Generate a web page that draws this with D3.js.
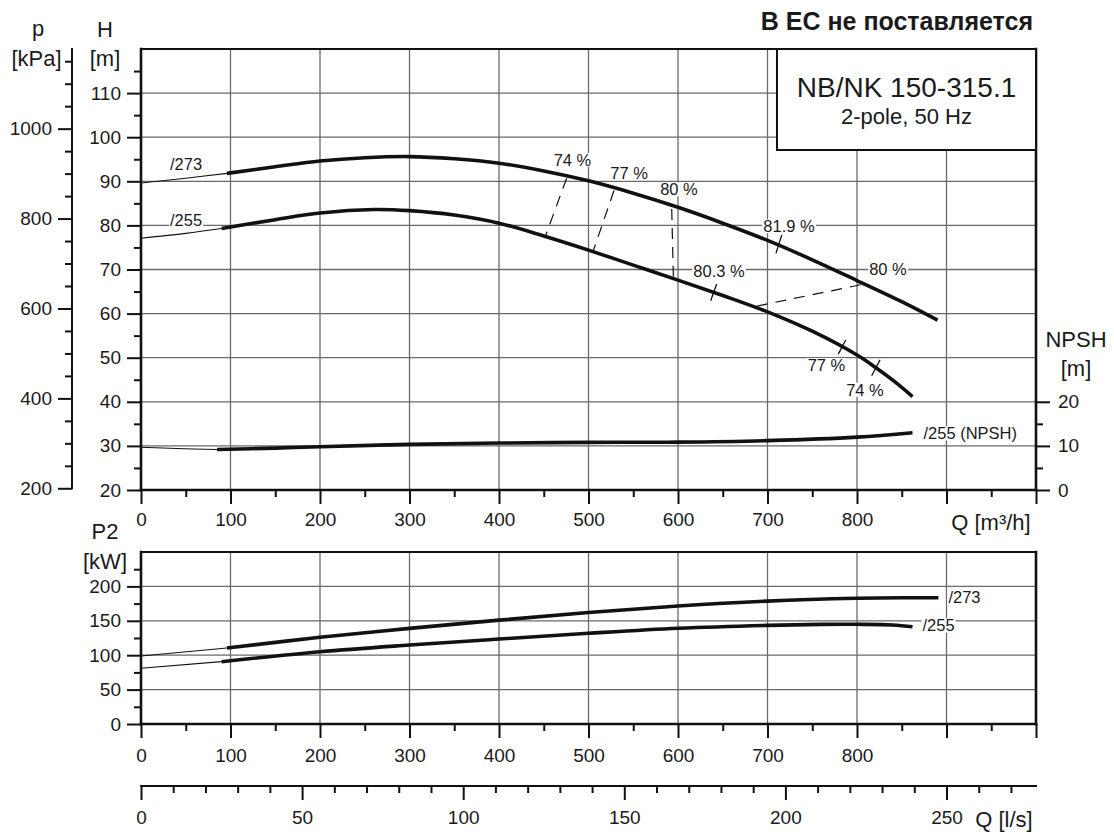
<!DOCTYPE html>
<html><head><meta charset="utf-8">
<script src="https://cdn.jsdelivr.net/npm/d3@7"></script>
<style>body{margin:0;background:#fff} svg{display:block}</style>
</head><body>
<svg id="c" width="1114" height="832"></svg>
<script>
// ---------------- DATA ----------------
const qH273 = [0, 50, 96, 150, 200, 250, 300, 350, 400, 450, 500, 550, 600, 650, 700, 750, 800, 850, 890];
const h273  = [89.6, 90.7, 91.8, 93.3, 94.6, 95.35, 95.6, 95.1, 94.1, 92.35, 90.1, 87.3, 84.1, 80.5, 76.6, 72.2, 67.5, 62.7, 58.5];
const qH255 = [0, 50, 90, 150, 200, 260, 300, 350, 400, 450, 500, 550, 600, 650, 700, 750, 800, 820, 840, 862];
const h255  = [77.1, 78.2, 79.3, 81.3, 82.8, 83.6, 83.35, 82.35, 80.5, 77.6, 74.4, 71.0, 67.6, 64.1, 60.4, 56.0, 50.6, 47.9, 44.9, 41.2];
const qNpsh = [0, 40, 85, 150, 200, 300, 400, 500, 600, 700, 800, 862];
const npsh  = [9.7, 9.4, 9.2, 9.5, 9.8, 10.35, 10.65, 10.8, 10.85, 11.2, 12.0, 13.0];
const qP273 = [0, 96, 200, 300, 400, 500, 600, 700, 800, 850, 891];
const p273  = [98.8, 110.5, 126, 139, 151, 162, 171.5, 178.6, 182.7, 183.6, 183.4];
const qP255 = [0, 90, 200, 300, 400, 500, 600, 700, 760, 800, 840, 862];
const p255  = [81, 90.6, 105, 114.8, 123.5, 131.8, 139.1, 143.4, 144.8, 144.9, 144, 141.4];
// Q where the bold (allowed operating range) part starts
const thickFrom = {h273: 96, h255: 90, npsh: 85, p273: 96, p255: 90};

// efficiency iso-lines (dashed), Q [m3/h], H [m]
const effLabels = ["74 %", "77 %", "80 %", "80 %"];
const effQ1 = [475.6, 528.5, 593.0, 688.0];
const effH1 = [90.7, 87.9, 83.7, 61.7];
const effQ2 = [451.4, 505.4, 594.8, 812.6];
const effH2 = [77.3, 74.3, 68.4, 66.9];
const effLabelQ = [482.1, 545.3, 601.1, 834.6];
const effLabelH = [94.8, 91.8, 88.1, 70.1];
// efficiency marks (short ticks) across curves
const tickLabels = ["81.9 %", "80.3 %", "77 %", "74 %"];
const tickQ1 = [709.5, 636.5, 779.1, 816.4];
const tickH1 = [73.7, 62.9, 50.8, 45.9];
const tickQ2 = [715.9, 643.2, 787.4, 825.7];
const tickH2 = [77.8, 66.7, 54.0, 49.5];
const tickLabelQ = [724.0, 645.8, 765.9, 808.9];
const tickLabelH = [79.75, 69.5, 48.3, 42.7];

// axis ticks
const hMajor = [20, 30, 40, 50, 60, 70, 80, 90, 100, 110];
const pKpaMajor = [200, 400, 600, 800, 1000];
const qMajor = [0, 100, 200, 300, 400, 500, 600, 700, 800, 900, 1000];
const qLabeled = [0, 100, 200, 300, 400, 500, 600, 700, 800];
const npshMajor = [0, 10, 20];
const p2Major = [0, 50, 100, 150, 200];
const lsMajor = [0, 50, 100, 150, 200, 250];

// ---------------- SETUP ----------------
const F = '"Liberation Sans", Arial, Helvetica, sans-serif';
const svg = d3.select('#c');
const x = d3.scaleLinear().domain([0, 1000]).range([141, 1036]);
const yH = d3.scaleLinear().domain([20, 120]).range([490, 49]);
const yKpa = d3.scaleLinear().domain([20 * 9.81, 120 * 9.81]).range([490, 49]);
const yN = d3.scaleLinear().domain([0, 100]).range([490, 49]);
const yP = d3.scaleLinear().domain([0, 250]).range([724, 552]);
const xLs = d3.scaleLinear().domain([0, 1000 / 3.6]).range([141, 1036]);

const GRID = '#6a6a6a';
const gGrid = svg.append('g');
d3.range(100, 1000, 100).forEach(q => {
  gGrid.append('line').attr('x1', x(q)).attr('x2', x(q)).attr('y1', yH(120)).attr('y2', yH(20))
    .attr('stroke', GRID).attr('stroke-width', 1.3);
  gGrid.append('line').attr('x1', x(q)).attr('x2', x(q)).attr('y1', yP(250)).attr('y2', yP(0))
    .attr('stroke', GRID).attr('stroke-width', 1.3);
});
d3.range(30, 120, 10).forEach(h => {
  gGrid.append('line').attr('x1', x(0)).attr('x2', x(1000)).attr('y1', yH(h)).attr('y2', yH(h))
    .attr('stroke', GRID).attr('stroke-width', 1.3);
});
[50, 100, 150, 200].forEach(p => {
  gGrid.append('line').attr('x1', x(0)).attr('x2', x(1000)).attr('y1', yP(p)).attr('y2', yP(p))
    .attr('stroke', GRID).attr('stroke-width', 1.3);
});

// ---------------- EFFICIENCY LINES ----------------
const gEff = svg.append('g');
effQ1.forEach((q, i) => {
  gEff.append('line').attr('x1', x(effQ1[i])).attr('y1', yH(effH1[i]))
    .attr('x2', x(effQ2[i])).attr('y2', yH(effH2[i]))
    .attr('stroke', '#111').attr('stroke-width', 1.2).attr('stroke-dasharray', '11,8');
});
tickQ1.forEach((q, i) => {
  gEff.append('line').attr('x1', x(tickQ1[i])).attr('y1', yH(tickH1[i]))
    .attr('x2', x(tickQ2[i])).attr('y2', yH(tickH2[i]))
    .attr('stroke', '#111').attr('stroke-width', 1.3);
});

// ---------------- CURVES ----------------
function drawCurve(qs, vs, yScale, from, g) {
  const pts = qs.map((q, i) => [q, vs[i]]);
  const line = d3.line().x(d => x(d[0])).y(d => yScale(d[1])).curve(d3.curveCatmullRom.alpha(0.5));
  g.append('path').attr('d', line(pts.filter(d => d[0] <= from)))
    .attr('fill', 'none').attr('stroke', '#111').attr('stroke-width', 1.1);
  g.append('path').attr('d', line(pts.filter(d => d[0] >= from)))
    .attr('fill', 'none').attr('stroke', '#111').attr('stroke-width', 3.6).attr('stroke-linecap', 'butt');
}
const gC = svg.append('g');
drawCurve(qH273, h273, yH, thickFrom.h273, gC);
drawCurve(qH255, h255, yH, thickFrom.h255, gC);
drawCurve(qNpsh, npsh, yN, thickFrom.npsh, gC);
drawCurve(qP273, p273, yP, thickFrom.p273, gC);
drawCurve(qP255, p255, yP, thickFrom.p255, gC);

// ---------------- LABELS WITH WHITE BACKGROUND ----------------
const gL = svg.append('g');
function bgLabel(txt, cx, cy, anchor, fs) {
  const g = gL.append('g');
  const rect = g.append('rect').attr('fill', '#fff');
  const t = g.append('text').attr('x', cx).attr('y', cy).attr('dy', '0.35em')
    .attr('text-anchor', anchor || 'middle').attr('font-family', F).attr('font-size', fs || 16.5)
    .attr('fill', '#1a1a1a').text(txt);
  const b = t.node().getBBox();
  rect.attr('x', b.x - 1).attr('y', b.y + 2).attr('width', b.width + 2).attr('height', b.height - 4);
}
effLabels.forEach((l, i) => bgLabel(l, x(effLabelQ[i]), yH(effLabelH[i])));
tickLabels.forEach((l, i) => bgLabel(l, x(tickLabelQ[i]), yH(tickLabelH[i])));
bgLabel('/273', x(qH273[0]) + 29, yH(h273[0]) - 19, 'start');
bgLabel('/255', x(qH255[0]) + 29, yH(h255[0]) - 18, 'start');
bgLabel('/255 (NPSH)', x(qNpsh[qNpsh.length - 1]) + 11, yN(npsh[npsh.length - 1]) + 1, 'start');
bgLabel('/273', x(qP273[qP273.length - 1]) + 10, yP(p273[p273.length - 1]) - 1, 'start');
bgLabel('/255', x(qP255[qP255.length - 1]) + 10, yP(p255[p255.length - 1]) - 1, 'start');

// ---------------- AXES ----------------
function styleAxis(g, fs) {
  g.attr('font-family', F).attr('font-size', fs || 19);
  g.select('.domain').remove();
  g.selectAll('.tick line').attr('stroke', '#111').attr('stroke-width', 2);
  g.selectAll('.tick text').attr('fill', '#1a1a1a');
}
function minorOf(start, stop, step, majors) {
  return d3.range(start, stop + 1e-9, step).filter(v => !majors.includes(v));
}
svg.append('g').attr('transform', `translate(${x(0)},0)`)
  .call(d3.axisLeft(yH).tickValues(minorOf(25, 115, 5, hMajor)).tickSize(7).tickFormat(''))
  .call(styleAxis);
svg.append('g').attr('transform', `translate(${x(0)},0)`)
  .call(d3.axisLeft(yH).tickValues(hMajor).tickSize(14).tickPadding(6).tickFormat(d3.format('d')))
  .call(styleAxis);
const PX = 72;
svg.append('g').attr('transform', `translate(${PX},0)`)
  .call(d3.axisLeft(yKpa).tickValues(minorOf(250, 1150, 50, [400, 600, 800, 1000])).tickSize(7).tickFormat(''))
  .call(styleAxis);
svg.append('g').attr('transform', `translate(${PX},0)`)
  .call(d3.axisLeft(yKpa).tickValues(pKpaMajor).tickSize(14).tickPadding(6).tickFormat(d3.format('d')))
  .call(styleAxis);
const qFmt = d => qLabeled.includes(d) ? d : '';
svg.append('g').attr('transform', `translate(0,${yH(20)})`)
  .call(d3.axisBottom(x).tickValues(d3.range(50, 1000, 100)).tickSize(7).tickFormat(''))
  .call(styleAxis);
svg.append('g').attr('transform', `translate(0,${yH(20)})`)
  .call(d3.axisBottom(x).tickValues(qMajor).tickSize(14).tickPadding(9).tickFormat(qFmt))
  .call(styleAxis);
svg.append('g').attr('transform', `translate(${x(1000)},0)`)
  .call(d3.axisRight(yN).tickValues([5, 15]).tickSize(7).tickFormat(''))
  .call(styleAxis);
svg.append('g').attr('transform', `translate(${x(1000)},0)`)
  .call(d3.axisRight(yN).tickValues(npshMajor).tickSize(14).tickPadding(8).tickFormat(d3.format('d')))
  .call(styleAxis);
svg.append('g').attr('transform', `translate(${x(0)},0)`)
  .call(d3.axisLeft(yP).tickValues(minorOf(25, 225, 50, [])).tickSize(7).tickFormat(''))
  .call(styleAxis);
svg.append('g').attr('transform', `translate(${x(0)},0)`)
  .call(d3.axisLeft(yP).tickValues(p2Major).tickSize(14).tickPadding(6).tickFormat(d3.format('d')))
  .call(styleAxis);
svg.append('g').attr('transform', `translate(0,${yP(0)})`)
  .call(d3.axisBottom(x).tickValues(d3.range(50, 1000, 100)).tickSize(7).tickFormat(''))
  .call(styleAxis);
svg.append('g').attr('transform', `translate(0,${yP(0)})`)
  .call(d3.axisBottom(x).tickValues(qMajor).tickSize(14).tickPadding(11).tickFormat(qFmt))
  .call(styleAxis);
const LY = 786;
svg.append('g').attr('transform', `translate(0,${LY})`)
  .call(d3.axisBottom(xLs).tickValues(minorOf(10, 270, 10, lsMajor)).tickSize(7).tickFormat(''))
  .call(styleAxis);
svg.append('g').attr('transform', `translate(0,${LY})`)
  .call(d3.axisBottom(xLs).tickValues(lsMajor).tickSize(14).tickPadding(11).tickFormat(d3.format('d')))
  .call(styleAxis);

// ---------------- FRAMES ----------------
function ln(x1, y1, x2, y2, w) {
  svg.append('line').attr('x1', x1).attr('y1', y1).attr('x2', x2).attr('y2', y2)
    .attr('stroke', '#111').attr('stroke-width', w).attr('stroke-linecap', 'square');
}
ln(x(0), yH(120), x(1000), yH(120), 2);
ln(x(0), yH(120), x(0), yH(20), 2.6);
ln(x(1000), yH(120), x(1000), yH(20), 2.6);
ln(x(0), yH(20), x(1000), yH(20), 2.6);
ln(PX, yH(120), PX, yKpa(200), 2);
ln(x(0), yP(250), x(1000), yP(250), 2);
ln(x(0), yP(250), x(0), yP(0), 2.6);
ln(x(1000), yP(250), x(1000), yP(0), 2.6);
ln(x(0), yP(0), x(1000), yP(0), 2.6);
ln(xLs(0), LY, xLs(1000 / 3.6), LY, 2);

// ---------------- TITLE BOX ----------------
svg.append('rect').attr('x', 777).attr('y', yH(120)).attr('width', x(1000) - 777).attr('height', 101)
  .attr('fill', '#fff').attr('stroke', '#111').attr('stroke-width', 2);
function txt(s, tx, ty, fs, anchor, weight) {
  return svg.append('text').attr('x', tx).attr('y', ty).attr('dy', '0.35em')
    .attr('text-anchor', anchor || 'middle').attr('font-family', F).attr('font-size', fs)
    .attr('font-weight', weight || 'normal').attr('fill', '#1a1a1a').text(s);
}
txt('NB/NK 150-315.1', 906.5, 87, 28);
txt('2-pole, 50 Hz', 906.5, 116, 22);
txt('В ЕС не поставляется', 1033, 21, 25, 'end', 'bold');

txt('p', 38, 28, 22);
txt('[kPa]', 36.5, 58, 22);
txt('H', 105, 29, 22);
txt('[m]', 105, 58, 22);
txt('P2', 105, 531, 22);
txt('[kW]', 105, 561, 22);
txt('NPSH', 1076, 339, 22);
txt('[m]', 1076, 368, 22);
txt('Q [m³/h]', 991, 522, 22);
txt('Q [l/s]', 1004, 819, 22);
</script></body></html>
